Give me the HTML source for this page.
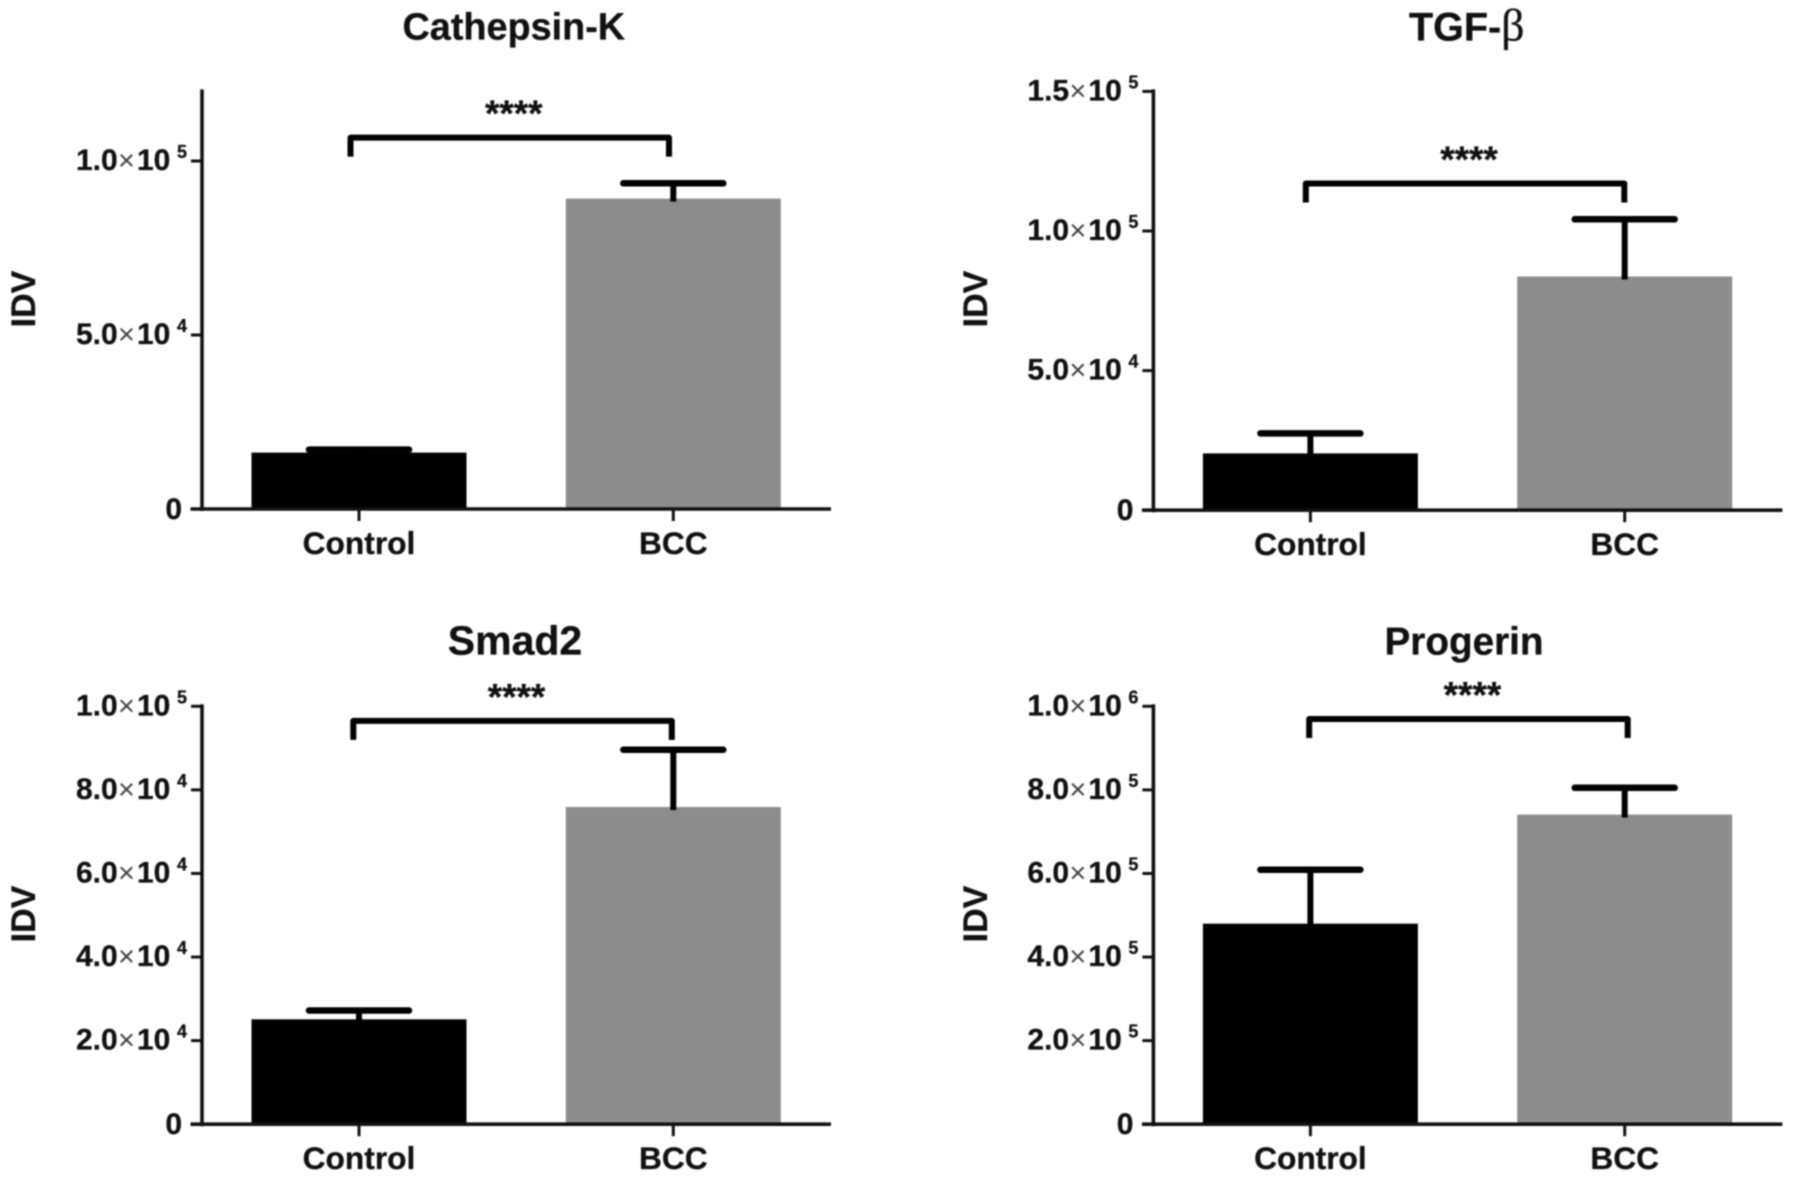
<!DOCTYPE html>
<html lang="en">
<head>
<meta charset="utf-8">
<title>IDV of Cathepsin-K, TGF-β, Smad2 and Progerin in Control vs BCC</title>
<style>
html,body{margin:0;padding:0;background:#fff;width:1795px;height:1182px;overflow:hidden}
svg{display:block;filter:blur(0.8px)}
text{font-family:"Liberation Sans",sans-serif;font-weight:700;fill:#111;stroke:#111;stroke-width:0.3px}
</style>
</head>
<body>
<svg id="chart" width="1795" height="1182" viewBox="0 0 1795 1182" xmlns="http://www.w3.org/2000/svg"></svg>
<script>
// ---- data ----
const panelTitles = ['Cathepsin-K', 'TGF-β', 'Smad2', 'Progerin'];
const categories = ['Control', 'BCC'];
const controlMeans = [16200, 20340, 25100, 479800];
const bccMeans = [89200, 83700, 75900, 740800];
const controlErrorTops = [17070, 27500, 27200, 609000];
const bccErrorTops = [93600, 104200, 89600, 805000];
const bracketValues = [106700, 117000, 96500, 969700];
const significanceLabels = ['****', '****', '****', '****'];
const yAxisMaximums = [120000, 150000, 100000, 1000000];
const cathepsinTicks = [0, 50000, 100000];
const tgfTicks = [0, 50000, 100000, 150000];
const smadTicks = [0, 20000, 40000, 60000, 80000, 100000];
const progerinTicks = [0, 200000, 400000, 600000, 800000, 1000000];
const yAxisTitle = 'IDV';

// ---- layout ----
const allTicks = [cathepsinTicks, tgfTicks, smadTicks, progerinTicks];
const axisLefts = [202, 1153.4, 202, 1153.4];
const axisBottoms = [509, 510.2, 1124.2, 1124.2];
const plotHeights = [417.6, 418.8, 417.9, 417.9];
const titleCentres = [513.8, 1466.8, 515, 1464];
const titleSizes = [37.8, 39.5, 41, 38.7];
const bracketShifts = [-8.5, -4.6, -5.7, -1.2];
const ylabelCentres = [299, 299, 914, 914];
const ylabelBaselines = [35, 987, 35, 987];
const BAR_W = 215, CAP_W = 100, BRACKET_W = 318.5, BRACKET_DROP = 19;
const svg = document.getElementById('chart');
const NS = 'http://www.w3.org/2000/svg';

function make(tag, attrs, parent, content) {
  const el = document.createElementNS(NS, tag);
  for (const k in attrs) el.setAttribute(k, attrs[k]);
  if (content !== undefined) el.textContent = content;
  parent.appendChild(el);
  return el;
}
function xScale(p, i) { return axisLefts[p] + 157 + 314.3 * i; }
function yScale(p, v) { return axisBottoms[p] - v / yAxisMaximums[p] * plotHeights[p]; }

panelTitles.forEach(function (title, p) {
  const g = make('g', {}, svg);
  
  
  const ax = axisLefts[p], base = axisBottoms[p];

  const t = make('text', {x: titleCentres[p], y: base - 469.5, 'text-anchor': 'middle', 'font-size': titleSizes[p]}, g);
  
  
  title.split(/(β)/).forEach(function (part) {
    if (part === 'β') {
      make('tspan', {'font-size': 46, style: 'font-family:"Liberation Serif",serif;font-weight:400'}, t, part);
    } else if (part) {
      make('tspan', {}, t, part);
    }
  });

  const yl = make('text', {transform: 'translate(' + ylabelBaselines[p] + ',' + ylabelCentres[p] + ') rotate(-90)', 'text-anchor': 'middle', 'font-size': 34}, g, yAxisTitle);
  
  

  // bars
  [controlMeans[p], bccMeans[p]].forEach(function (v, i) {
    const cx = xScale(p, i), top = yScale(p, v);
    const bar = make('rect', {x: cx - BAR_W / 2, y: top, width: BAR_W, height: base - top, fill: i === 0 ? '#000' : '#8c8c8c'}, g);
    
    
  });

  // error bars
  [[controlMeans[p], controlErrorTops[p]], [bccMeans[p], bccErrorTops[p]]].forEach(function (pair, i) {
    const cx = xScale(p, i), yTop = yScale(p, pair[1]), yBar = yScale(p, pair[0]);
    const stem = make('line', {x1: cx, x2: cx, y1: yTop, y2: yBar + 3, stroke: '#000', 'stroke-width': 6}, g);
    
    
    const cap = make('line', {x1: cx - CAP_W / 2, x2: cx + CAP_W / 2, y1: yTop, y2: yTop, stroke: '#000', 'stroke-width': 6.5, 'stroke-linecap': 'round'}, g);
    
    
  });

  // y axis
  const yTopPx = base - plotHeights[p];
  const yAxis = make('line', {x1: ax, x2: ax, y1: yTopPx - 2, y2: base + 2, stroke: '#111', 'stroke-width': 3.6}, g);
  
  
  allTicks[p].forEach(function (v) {
    const y = yScale(p, v);
    const tick = make('line', {x1: ax - 11, x2: ax, y1: y, y2: y, stroke: '#111', 'stroke-width': 3}, g);
    
    
    const lab = make('g', {}, g);
    
    
    if (v === 0) {
      make('text', {x: ax - 20, y: y + 10, 'text-anchor': 'end', 'font-size': 30}, lab, '0');
    } else {
      const exp = Math.floor(Math.log10(v) + 1e-9);
      const man = (v / Math.pow(10, exp)).toFixed(1);
      make('text', {x: ax - 126, y: y + 9, 'font-size': 30}, lab, man);
      make('text', {x: ax - 84, y: y + 9, 'font-size': 29, style: 'font-weight:400;fill:#444;stroke:none'}, lab, '×');
      make('text', {x: ax - 65, y: y + 9, 'font-size': 30}, lab, '10');
      make('text', {x: ax - 25, y: y - 3, 'font-size': 18}, lab, String(exp));
    }
  });

  // x axis
  const xAxis = make('line', {x1: ax - 11.5, x2: ax + 629, y1: base, y2: base, stroke: '#111', 'stroke-width': 3.6}, g);
  
  
  categories.forEach(function (c, i) {
    const cx = xScale(p, i);
    const tick = make('line', {x1: cx, x2: cx, y1: base, y2: base + 12, stroke: '#111', 'stroke-width': 3}, g);
    
    
    const lab = make('text', {x: cx, y: base + 45, 'text-anchor': 'middle', 'font-size': 31.7}, g, c);
    
    
  });

  // significance bracket
  const bx = xScale(p, 0) + bracketShifts[p], by = yScale(p, bracketValues[p]);
  const bracket = make('polyline', {points: [bx, by + BRACKET_DROP, bx, by, bx + BRACKET_W, by, bx + BRACKET_W, by + BRACKET_DROP].join(' '), fill: 'none', stroke: '#000', 'stroke-width': 6, 'stroke-linejoin': 'round'}, g);
  
  
  const stars = make('text', {x: bx + BRACKET_W / 2 + 4, y: by - 11.5, 'text-anchor': 'middle', 'font-size': 37}, g, significanceLabels[p]);
  
  
});
</script>
</body>
</html>
